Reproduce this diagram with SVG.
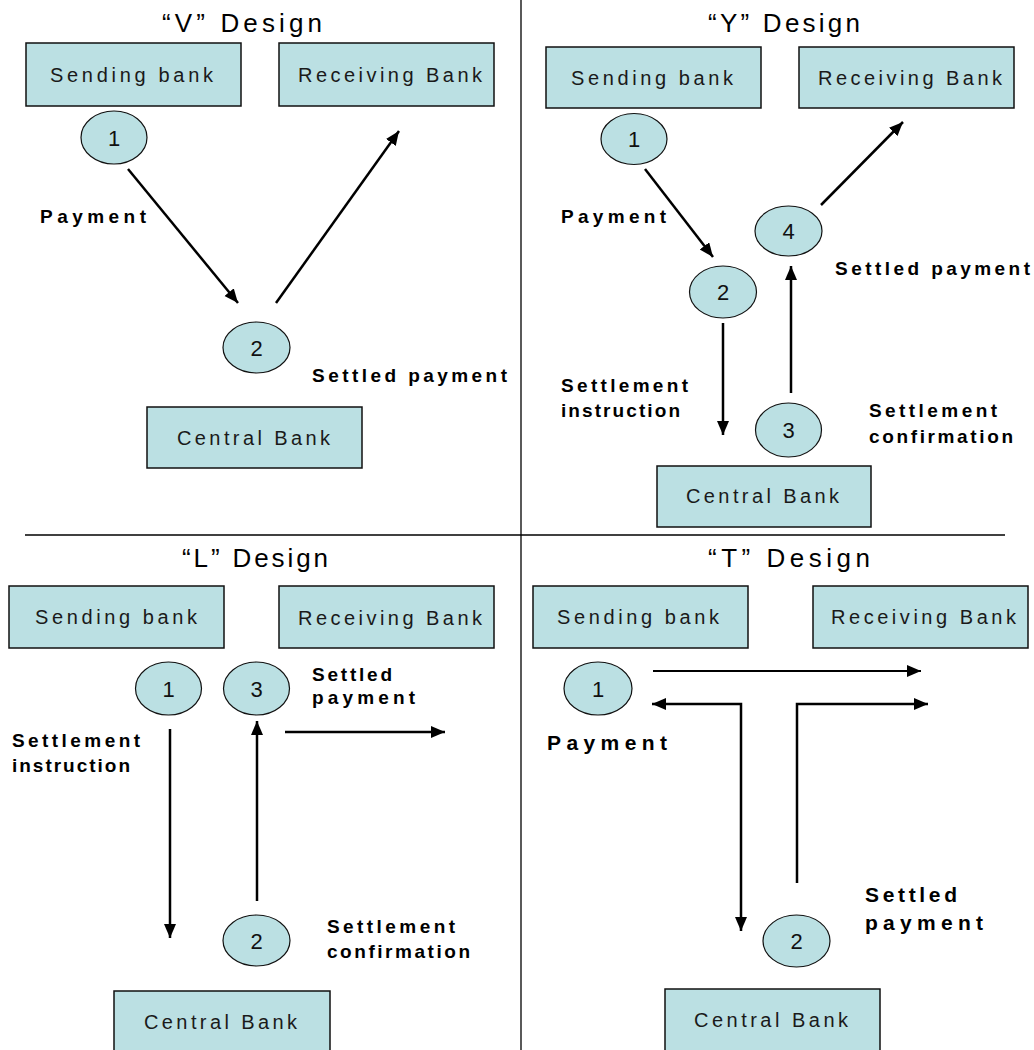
<svg xmlns="http://www.w3.org/2000/svg" width="1034" height="1050" viewBox="0 0 1034 1050">
<defs>
<marker id="ah" markerUnits="userSpaceOnUse" markerWidth="15" markerHeight="13" refX="14" refY="6" orient="auto-start-reverse">
<path d="M0,0 L14,6 L0,12 z" fill="#000"/>
</marker>
</defs>
<style>
.box{fill:#BBE0E3;stroke:#111;stroke-width:1.5}
.ell{fill:#BBE0E3;stroke:#111;stroke-width:1.2}
.lbl{font-family:"Liberation Sans",Arial,sans-serif;font-size:20px;fill:#1a1a1a}
.num{font-family:"Liberation Sans",Arial,sans-serif;font-size:22px;fill:#111;text-anchor:middle}
.bold{font-family:"Liberation Sans",Arial,sans-serif;font-size:19px;font-weight:bold;fill:#000}
.big{font-size:21px}
.title{font-family:"Liberation Sans",Arial,sans-serif;font-size:26px;fill:#000}
.ln{stroke:#000;stroke-width:2.5;fill:none}
.arr{stroke:#000;stroke-width:2.5;fill:none;marker-end:url(#ah)}
.div{stroke:#000;stroke-width:1.3}
</style>

<g id="dividers">
<line class="div" x1="521" y1="0" x2="521" y2="1050"/>
<line class="div" x1="25" y1="535" x2="1005" y2="535"/>
</g>

<g id="titles">
<text class="title" x="162" y="32" textLength="160" lengthAdjust="spacing">“V” Design</text>
<text class="title" x="708" y="32" textLength="152" lengthAdjust="spacing">“Y” Design</text>
<text class="title" x="182" y="567" textLength="146" lengthAdjust="spacing">“L” Design</text>
<text class="title" x="708" y="567" textLength="162" lengthAdjust="spacing">“T” Design</text>
</g>

<!-- V design -->
<g id="v-sending"><rect class="box" x="26" y="43" width="215" height="63"/><text class="lbl" x="50" y="82" textLength="163" lengthAdjust="spacing">Sending bank</text></g>
<g id="v-receiving"><rect class="box" x="279" y="43" width="215" height="63"/><text class="lbl" x="298" y="82" textLength="184" lengthAdjust="spacing">Receiving Bank</text></g>
<g id="v-central"><rect class="box" x="147" y="407" width="215" height="61"/><text class="lbl" x="177" y="445" textLength="153" lengthAdjust="spacing">Central Bank</text></g>
<g id="v-step1"><ellipse class="ell" cx="114" cy="137.5" rx="33" ry="26.5"/><text class="num" x="114" y="145.5">1</text></g>
<g id="v-step2"><ellipse class="ell" cx="256.5" cy="347.5" rx="33.5" ry="25.5"/><text class="num" x="256.5" y="355.5">2</text></g>
<g id="v-labels">
<text class="bold" x="40" y="223" textLength="106" lengthAdjust="spacing">Payment</text>
<text class="bold" x="312" y="382" textLength="195" lengthAdjust="spacing">Settled payment</text>
</g>

<!-- Y design -->
<g id="y-sending"><rect class="box" x="546" y="47" width="215" height="61"/><text class="lbl" x="571" y="85" textLength="162" lengthAdjust="spacing">Sending bank</text></g>
<g id="y-receiving"><rect class="box" x="799" y="47" width="215" height="61"/><text class="lbl" x="818" y="85" textLength="184" lengthAdjust="spacing">Receiving Bank</text></g>
<g id="y-central"><rect class="box" x="657" y="466" width="214" height="61"/><text class="lbl" x="686" y="503" textLength="153" lengthAdjust="spacing">Central Bank</text></g>
<g id="y-step1"><ellipse class="ell" cx="634" cy="139" rx="33" ry="25.5"/><text class="num" x="634" y="147">1</text></g>
<g id="y-step2"><ellipse class="ell" cx="723" cy="292" rx="33.5" ry="26"/><text class="num" x="723" y="300">2</text></g>
<g id="y-step3"><ellipse class="ell" cx="788.5" cy="430" rx="33" ry="27"/><text class="num" x="788.5" y="438">3</text></g>
<g id="y-step4"><ellipse class="ell" cx="788.5" cy="231" rx="33.5" ry="25"/><text class="num" x="788.5" y="239">4</text></g>
<g id="y-labels">
<text class="bold" x="561" y="223" textLength="105" lengthAdjust="spacing">Payment</text>
<text class="bold" x="835" y="275" textLength="195" lengthAdjust="spacing">Settled payment</text>
<text class="bold" x="561" y="392" textLength="127" lengthAdjust="spacing">Settlement</text>
<text class="bold" x="561" y="417" textLength="119" lengthAdjust="spacing">instruction</text>
<text class="bold" x="869" y="417" textLength="128" lengthAdjust="spacing">Settlement</text>
<text class="bold" x="869" y="443" textLength="144" lengthAdjust="spacing">confirmation</text>
</g>

<!-- L design -->
<g id="l-sending"><rect class="box" x="9" y="586" width="215" height="62"/><text class="lbl" x="35" y="624" textLength="162" lengthAdjust="spacing">Sending bank</text></g>
<g id="l-receiving"><rect class="box" x="279" y="586" width="215" height="62"/><text class="lbl" x="298" y="625" textLength="184" lengthAdjust="spacing">Receiving Bank</text></g>
<g id="l-central"><rect class="box" x="114" y="991" width="216" height="62"/><text class="lbl" x="144" y="1029" textLength="153" lengthAdjust="spacing">Central Bank</text></g>
<g id="l-step1"><ellipse class="ell" cx="168.5" cy="688.5" rx="33" ry="26.5"/><text class="num" x="168.5" y="697">1</text></g>
<g id="l-step3"><ellipse class="ell" cx="256.5" cy="688.5" rx="33" ry="26.5"/><text class="num" x="256.5" y="697">3</text></g>
<g id="l-step2"><ellipse class="ell" cx="256.5" cy="940.5" rx="33.5" ry="25.5"/><text class="num" x="256.5" y="949">2</text></g>
<g id="l-labels">
<text class="bold" x="312" y="681" textLength="80" lengthAdjust="spacing">Settled</text>
<text class="bold" x="312" y="704" textLength="103" lengthAdjust="spacing">payment</text>
<text class="bold" x="12" y="747" textLength="128" lengthAdjust="spacing">Settlement</text>
<text class="bold" x="12" y="772" textLength="118" lengthAdjust="spacing">instruction</text>
<text class="bold" x="327" y="933" textLength="128" lengthAdjust="spacing">Settlement</text>
<text class="bold" x="327" y="958" textLength="143" lengthAdjust="spacing">confirmation</text>
</g>

<!-- T design -->
<g id="t-sending"><rect class="box" x="533" y="586" width="215" height="62"/><text class="lbl" x="557" y="624" textLength="162" lengthAdjust="spacing">Sending bank</text></g>
<g id="t-receiving"><rect class="box" x="813" y="586" width="215" height="62"/><text class="lbl" x="831" y="624" textLength="185" lengthAdjust="spacing">Receiving Bank</text></g>
<g id="t-central"><rect class="box" x="665" y="989" width="215" height="62"/><text class="lbl" x="694" y="1027" textLength="154" lengthAdjust="spacing">Central Bank</text></g>
<g id="t-step1"><ellipse class="ell" cx="598" cy="688.5" rx="34" ry="26.5"/><text class="num" x="598" y="697">1</text></g>
<g id="t-step2"><ellipse class="ell" cx="796.5" cy="941" rx="33.5" ry="26"/><text class="num" x="796.5" y="949">2</text></g>
<g id="t-labels">
<text class="bold big" x="547" y="750" textLength="120" lengthAdjust="spacing">Payment</text>
<text class="bold big" x="865" y="902" textLength="92" lengthAdjust="spacing">Settled</text>
<text class="bold big" x="865" y="930" textLength="118" lengthAdjust="spacing">payment</text>
</g>

<g id="connectors">
<!-- V -->
<line class="arr" x1="128" y1="169" x2="238" y2="303"/>
<line class="arr" x1="276" y1="303" x2="399" y2="131"/>
<!-- Y -->
<line class="arr" x1="645" y1="169" x2="713" y2="257"/>
<line class="arr" x1="821" y1="205" x2="903" y2="122"/>
<line class="arr" x1="723" y1="323" x2="723" y2="435"/>
<line class="arr" x1="791" y1="393" x2="791" y2="266"/>
<!-- L -->
<line class="arr" x1="170" y1="729" x2="170" y2="938"/>
<line class="arr" x1="257" y1="901" x2="257" y2="721"/>
<line class="arr" x1="285" y1="732" x2="445" y2="732"/>
<!-- T -->
<line class="arr" style="stroke-width:2" x1="653" y1="671" x2="921" y2="671"/>
<polyline class="arr" style="marker-start:url(#ah)" points="652,704 741,704 741,931"/>
<polyline class="arr" points="797,883 797,704 928,704"/>
</g>
</svg>
